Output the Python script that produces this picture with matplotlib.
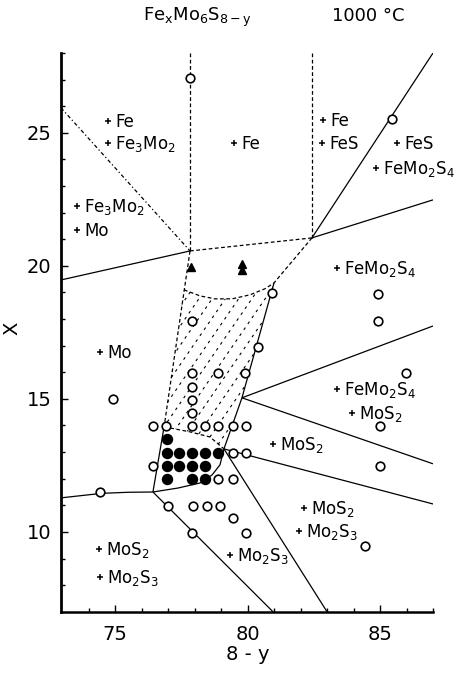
import numpy as np
import matplotlib.pyplot as plt
from matplotlib.path import Path
from matplotlib.patches import PathPatch

plt.rcParams['font.family'] = ['DejaVu Sans']
plt.rcParams['mathtext.default'] = 'regular'

# ---- sample compositions (8-y, x) ----
open_x = [7.783, 8.545, 8.092, 7.79, 8.040, 7.79, 7.889, 7.991, 7.79, 7.79, 7.79,
          7.643, 7.692, 7.79, 7.840, 7.889, 7.945, 7.994,
          7.643, 7.945, 7.994, 7.889, 7.945,
          7.443, 7.492,
          7.70, 7.794, 7.847, 7.896,
          7.79, 7.945, 7.994, 8.443,
          8.492, 8.492, 8.598, 8.50, 8.50]
open_y = [2.707, 2.553, 1.898, 1.793, 1.695, 1.598, 1.598, 1.598, 1.545, 1.496, 1.447,
          1.398, 1.398, 1.398, 1.398, 1.398, 1.398, 1.398,
          1.248, 1.297, 1.297, 1.199, 1.199,
          1.150, 1.500,
          1.098, 1.098, 1.098, 1.098,
          0.996, 1.053, 0.996, 0.947,
          1.895, 1.793, 1.598, 1.398, 1.248]

filled_x = [7.695,
            7.695, 7.742, 7.79, 7.840, 7.889,
            7.695, 7.742, 7.79, 7.840,
            7.695, 7.79, 7.840]
filled_y = [1.350,
            1.297, 1.297, 1.297, 1.297, 1.297,
            1.248, 1.248, 1.248, 1.248,
            1.199, 1.199, 1.199]

tri_x = [7.787, 7.979, 7.979]
tri_y = [1.995, 2.008, 1.985]

# ---- phase assemblage labels ----
lab_x = [7.474, 7.474, 7.357, 7.357, 7.949, 8.285, 8.281, 8.564, 8.485,
         8.338, 7.443, 8.338, 8.394, 8.096, 8.213, 8.194, 7.934, 7.440, 7.443]
lab_y = [2.545, 2.462, 2.226, 2.135, 2.462, 2.549, 2.462, 2.462, 2.368,
         1.992, 1.677, 1.538, 1.447, 1.331, 1.090, 1.004, 0.914, 0.936, 0.831]
lab_text = ['Fe', 'Fe$_3$Mo$_2$', 'Fe$_3$Mo$_2$', 'Mo', 'Fe', 'Fe', 'FeS', 'FeS',
            'FeMo$_2$S$_4$', 'FeMo$_2$S$_4$', 'Mo', 'FeMo$_2$S$_4$', 'MoS$_2$',
            'MoS$_2$', 'MoS$_2$', 'Mo$_2$S$_3$', 'Mo$_2$S$_3$', 'MoS$_2$', 'Mo$_2$S$_3$']

# ---- phase boundaries ----
# invariant points
A = (7.783, 2.056)
B = (8.243, 2.105)
C = (7.685, 1.395)
D = (7.643, 1.150)
F = (7.979, 1.504)
G = (7.911, 1.312)
T = (8.100, 1.936)

solid_lines = [
    [(7.296, 1.947), A],
    [B, (8.70, 2.80)],
    [B, (8.70, 2.248)],
    [F, (8.70, 1.774)],
    [F, (8.70, 1.256)],
    [G, (8.70, 1.105)],
    [G, (8.300, 0.70)],
    [D, (8.096, 0.70)],
    [(7.296, 1.128), (7.45, 1.145), (7.55, 1.149), D],
    [D, (7.738, 1.165), (7.821, 1.184), (7.866, 1.214), (7.896, 1.252), G],
    [T, F, G],
    [C, D],
]
arc_pts = [(7.760, 1.910), (7.821, 1.887), (7.877, 1.876), (7.942, 1.876),
           (8.009, 1.891), (8.066, 1.914), T]
lower_pts = [C, (7.783, 1.376), (7.858, 1.357), G]
dashed_lines = [
    [A, B],
    [(7.783, 2.80), A],
    [(8.243, 2.80), B],
    [A, C],
    arc_pts + [B],
    lower_pts,
]
dashdot_lines = [[(7.296, 2.594), A]]

fig = plt.figure(figsize=(4.6, 6.77), dpi=100)
ax = fig.add_axes([61 / 460, 1 - 612 / 677, 372 / 460, 559 / 677])
ax.set_xlim(7.296, 8.70)
ax.set_ylim(0.699, 2.80)

for seg in solid_lines:
    xs, ys = zip(*seg)
    ax.plot(xs, ys, color='black', lw=0.9, solid_capstyle='butt')
for seg in dashed_lines:
    xs, ys = zip(*seg)
    ax.plot(xs, ys, color='black', lw=0.9, linestyle=(0, (3, 2)))
for seg in dashdot_lines:
    xs, ys = zip(*seg)
    ax.plot(xs, ys, color='black', lw=0.9, linestyle=(0, (3, 2, 1, 2)))

# dashed hatching of the two-phase field
poly = arc_pts + [F, G] + lower_pts[::-1][1:] + [C]
clip = PathPatch(Path(poly), facecolor='none', edgecolor='none')
ax.add_patch(clip)
for k, c0 in enumerate(np.arange(7.3, 8.4, 0.05)):
    hx = np.array([c0, c0 + 0.6])
    hy = np.array([1.2, 1.2 + 0.6 * 1.45])
    ln, = ax.plot(hx, hy, color='black', lw=0.8,
                  linestyle=(1.5 * (k % 3), (2.5, 4)))
    ln.set_clip_path(clip)

ax.plot(open_x, open_y, 'o', ms=6.2, mfc='white', mec='black', mew=1.2, zorder=4)
ax.plot(filled_x, filled_y, 'o', ms=7.2, color='black', zorder=4)
ax.plot(tri_x, tri_y, '^', ms=5.5, color='black', zorder=4)
ax.plot(lab_x, lab_y, '+', ms=3.8, mew=1.1, color='black')
for x, y, t in zip(lab_x, lab_y, lab_text):
    ax.annotate(t, (x, y), xytext=(5, -4.3), textcoords='offset points',
                ha='left', va='baseline', fontsize=12)

for s in ['top', 'right']:
    ax.spines[s].set_visible(False)
ax.spines['left'].set_linewidth(2.0)
ax.spines['bottom'].set_linewidth(1.8)

ax.set_xticks([7.5, 8.0, 8.5])
ax.set_xticklabels(['75', '80', '85'])
ax.set_xticks(np.arange(7.4, 8.71, 0.1), minor=True)
ax.set_yticks([1.0, 1.5, 2.0, 2.5])
ax.set_yticklabels(['10', '15', '20', '25'])
ax.set_yticks(np.arange(0.8, 2.81, 0.1), minor=True)
ax.tick_params(which='both', direction='in', width=1.0)
ax.tick_params(which='major', length=5, labelsize=14)
ax.tick_params(which='minor', length=3)
ax.tick_params(axis='x', pad=9)
ax.tick_params(axis='y', pad=7)

fig.text(12 / 460, 1 - 328 / 677, 'X', rotation=90, ha='center', va='center', fontsize=14)
fig.text(248 / 460, 1 - 655 / 677, '8 - y', ha='center', va='center', fontsize=14)
fig.text(197 / 460, 1 - 17 / 677, 'Fe$_x$Mo$_6$S$_{8-y}$', ha='center', va='center', fontsize=13)
fig.text(368 / 460, 1 - 16 / 677, '1000 °C', ha='center', va='center', fontsize=13)

fig.savefig('out.png', dpi=100)
